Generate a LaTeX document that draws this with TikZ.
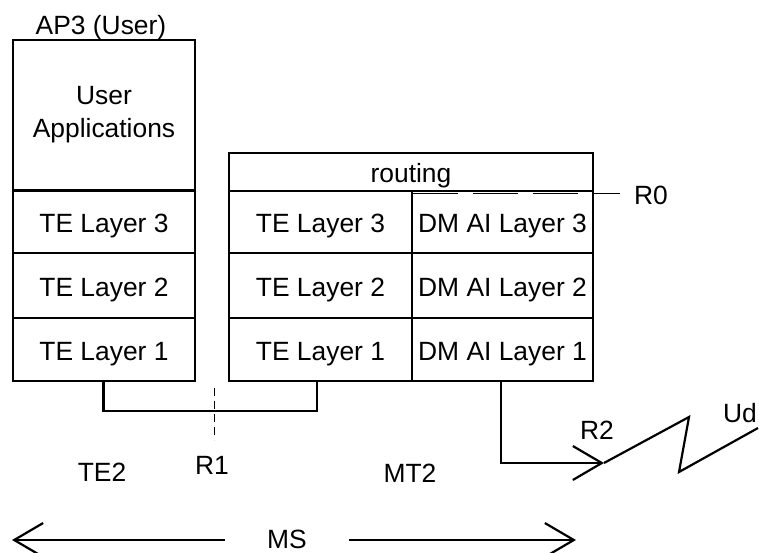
\documentclass[tikz,border=0pt]{standalone}
\usepackage{fontspec}
\setmainfont{Liberation Sans}
\usetikzlibrary{arrows.meta}
\begin{document}
\begin{tikzpicture}[x=1pt,y=-1pt, line width=2.2pt,
  txt/.style={font=\fontsize{26.4}{33}\selectfont},
  cell/.style={draw, rectangle, inner sep=0pt, txt, text height=22pt, text depth=0pt},
  appcell/.style={draw, rectangle, inner sep=0pt, txt, align=center},
  lbl/.style={inner sep=0pt, txt, text height=19pt, text depth=0pt},
  thinline/.style={line width=1pt},
  barb/.style={-{Straight Barb[length=29pt,width=34pt]}}]
\useasboundingbox (0,0) rectangle (759,553);

% left stack
\node[appcell, minimum width=182pt, minimum height=150pt] (app) at (104,115) {\rule{0pt}{0pt}\raisebox{-2pt}{User}\\\raisebox{-2pt}{Applications}};
\node[cell, minimum width=182pt, minimum height=62pt] (teL3) at (104,222) {TE Layer 3};
\node[cell, minimum width=182pt, minimum height=65pt] (teL2) at (104,285.5) {TE Layer 2};
\node[cell, minimum width=182pt, minimum height=63pt] (teL1) at (104,349.5) {TE Layer 1};

% right stack
\node[cell, minimum width=364pt, minimum height=38pt] (routing) at (411,172) {routing};
\node[cell, minimum width=183pt, minimum height=62pt] (teR3) at (320.5,222) {TE Layer 3};
\node[cell, minimum width=183pt, minimum height=65pt] (teR2) at (320.5,285.5) {TE Layer 2};
\node[cell, minimum width=183pt, minimum height=63pt] (teR1) at (320.5,349.5) {TE Layer 1};
\node[cell, minimum width=181pt, minimum height=62pt] (dm3) at (502.5,222) {DM AI Layer 3};
\node[cell, minimum width=181pt, minimum height=65pt] (dm2) at (502.5,285.5) {DM AI Layer 2};
\node[cell, minimum width=181pt, minimum height=63pt] (dm1) at (502.5,349.5) {DM AI Layer 1};

% labels
\node[lbl] (ap3) at (101,25.5) {AP3 (User)};
\node[lbl] (te2) at (102,472) {TE2};
\node[lbl] (r1) at (212,465) {R1};
\node[lbl] (mt2) at (410,473) {MT2};
\node[lbl] (r2) at (597,430) {R2};
\node[lbl] (ud) at (740,412.5) {Ud};
\node[lbl] (r0) at (651,195) {R0};
\node[lbl, inner xsep=41pt] (ms) at (287,539) {MS};

% coordinates
\coordinate (r0a) at (413,194);
\coordinate (r0b) at (620,194);
\coordinate (r1top) at (214,388);
\coordinate (r1bot) at (214,440);
\coordinate (tip) at (604,463);
\coordinate (z1) at (689,417);
\coordinate (z2) at (679,472);
\coordinate (z3) at (758,428);
\coordinate (msL) at (12,540);
\coordinate (msR) at (576,540);

% connectors
\draw ([xshift=-0.5pt]teL1.south) -- ++(0,29) -| ([xshift=-3.5pt]teR1.south);
\draw[thinline, dash pattern=on 8pt off 5pt] (r1top) -- (r1bot);
\draw[thinline, dash pattern=on 45pt off 15pt] (r0a) -- (r0b);
\draw[barb] ([xshift=-1.5pt]dm1.south) |- (tip);
\draw[line join=miter] (tip) -- (z1) -- (z2) -- (z3);
\draw[barb] (ms.west |- msL) -- (msL);
\draw[barb] (ms.east |- msR) -- (msR);
\end{tikzpicture}
\end{document}
